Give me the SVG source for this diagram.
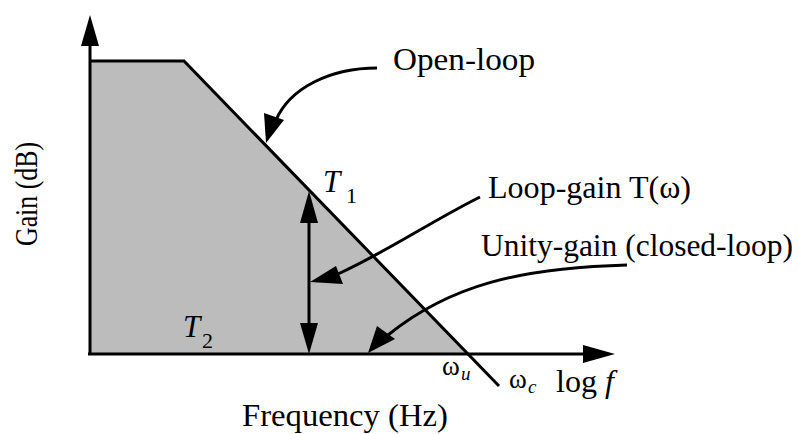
<svg xmlns="http://www.w3.org/2000/svg" width="799" height="434" viewBox="0 0 799 434">
<style>
.t{font-family:"Liberation Serif","Times New Roman",serif;font-size:31px;fill:#000}
.i{font-style:italic}
.ln{stroke:#000;stroke-width:3;fill:none}
.hd{fill:#000;stroke:none}
</style>
<rect width="799" height="434" fill="#fff"/>
<g id="plot">
<polygon points="90,61 184,61 468,354 90,354" fill="#bcbcbc"/>
<polyline class="ln" points="90,61 184,61 499,386"/>
</g>
<g id="axes">
<line class="ln" x1="90" y1="355" x2="90" y2="44"/>
<polygon class="hd" points="90,15 81,46 99,46"/>
<line class="ln" x1="88" y1="354" x2="586" y2="354"/>
<polygon class="hd" points="615,354 583,345 583,363"/>
</g>
<g id="connectors">
<line class="ln" x1="309" y1="220" x2="309" y2="326"/>
<polygon class="hd" points="309,191 300,223 318,223"/>
<polygon class="hd" points="309,354 300,323 318,323"/>
<path class="ln" d="M377,68 C330,68 290,88 276,120"/>
<polygon class="hd" points="266,143 264,113 284,120"/>
<path class="ln" d="M480,197 C430,222 390,250 338,274"/>
<polygon class="hd" points="310,282 336,266 343,284"/>
<path class="ln" d="M627,265 C520,268 450,285 388,335"/>
<polygon class="hd" points="368,353 377,326 395,339"/>
</g>
<g id="labels">
<text class="t" x="393" y="70" textLength="142" lengthAdjust="spacingAndGlyphs">Open-loop</text>
<text class="t i" x="323" y="192">T</text>
<text class="t" x="346" y="203" style="font-size:22px">1</text>
<text class="t i" x="183" y="337">T</text>
<text class="t" x="202" y="348" style="font-size:22px">2</text>
<text class="t" x="488" y="198" textLength="203" lengthAdjust="spacingAndGlyphs">Loop-gain T(ω)</text>
<text class="t" x="481" y="256" textLength="312" lengthAdjust="spacingAndGlyphs">Unity-gain (closed-loop)</text>
<text class="t" x="442" y="375" style="font-size:27px">ω</text>
<text class="t i" x="461" y="380" style="font-size:19px">u</text>
<text class="t" x="509" y="388" style="font-size:27px">ω</text>
<text class="t i" x="528" y="393" style="font-size:19px">c</text>
<text class="t" x="556" y="392" textLength="58" lengthAdjust="spacingAndGlyphs">log <tspan class="i">f</tspan></text>
<text class="t" x="242" y="426" textLength="206" lengthAdjust="spacingAndGlyphs">Frequency (Hz)</text>
<text class="t" transform="translate(37,246) rotate(-90)" textLength="104" lengthAdjust="spacingAndGlyphs">Gain (dB)</text>
</g>
</svg>
